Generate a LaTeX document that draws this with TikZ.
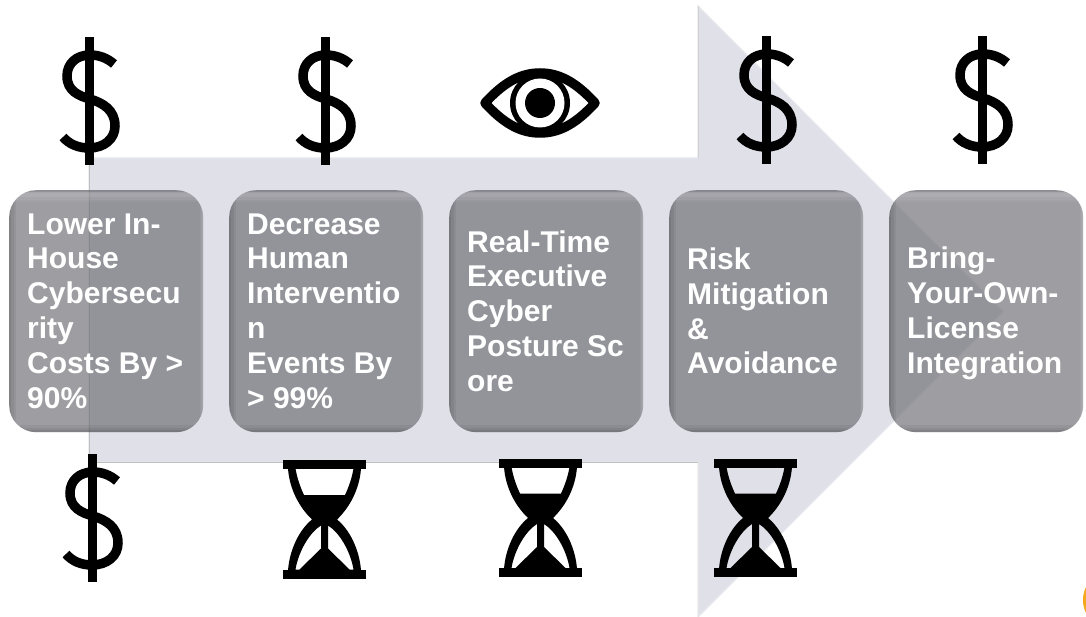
\documentclass[tikz,border=0pt]{standalone}
\usepackage{fontspec}
\setmainfont{Liberation Sans}
\tikzset{
  x=1pt,y=-1pt,
  arrowbody/.style={fill=arrowfill,draw=arrowedge,line width=1.2pt},
  stagebox/.style={rounded corners=27pt,minimum width=194pt,minimum height=242pt,inner sep=0pt,
    fill=boxfill,fill opacity=.66,text opacity=1,text=white,anchor=north west,
    path picture={
      \begin{scope}[fill opacity=1]
      \foreach \w/\o in {14/.05,9/.06,4/.08}{
        \draw[white,draw opacity=\o,line width=\w pt]
          ([xshift=\w*.25 pt]path picture bounding box.north east) -- ([xshift=\w*.25 pt]path picture bounding box.south east);
        \draw[black,draw opacity=\o,line width=\w pt]
          (path picture bounding box.north west) -- (path picture bounding box.south west);
        \draw[black,draw opacity=\o,line width=\w pt]
          (path picture bounding box.south west) -- (path picture bounding box.south east);
        \draw[white,draw opacity=\o,line width=\w pt]
          ([yshift=-5pt]path picture bounding box.north west) -- ([yshift=-5pt]path picture bounding box.north east);
      }
      \draw[black,draw opacity=.12,line width=3pt]
          (path picture bounding box.north west) -- (path picture bounding box.north east);
      \end{scope}
    }},
  stagetext/.style={text=white,font=\fontsize{30}{34.8}\selectfont\bfseries,anchor=west,align=left,inner sep=0pt},
  dollar/.pic={
    \fill[black] (-4.5,-64) rectangle (4.5,64);
    \draw[black,line width=9.5pt,line cap=butt]
      (25,-37) .. controls (18,-43) and (10,-46) .. (1,-46)
      .. controls (-13,-46) and (-22,-37) .. (-22,-25)
      .. controls (-22,-10) and (-10,-5) .. (1,-2)
      .. controls (14,2) and (26,9) .. (26,25)
      .. controls (26,38) and (15,47) .. (0,47)
      .. controls (-11,47) and (-20,43) .. (-26,36);
  },
  hourglass/.pic={
    \fill[black] (-41.5,-59.5) rectangle (41.5,-50.5);
    \fill[black] (-41.5,50) rectangle (41.5,59);
    \fill[black,even odd rule]
      (-36.5,-51) .. controls (-35,-30) and (-25,-12) .. (-12.5,0)
      .. controls (-25,10) and (-35,30) .. (-36.5,51) -- (36.5,51)
      .. controls (35,30) and (25,10) .. (12.5,0)
      .. controls (25,-12) and (35,-30) .. (36.5,-51) -- cycle
      (-29,-51) .. controls (-27.5,-42) and (-24.5,-33) .. (-20.5,-24.5) -- (20.5,-24.5)
      .. controls (24.5,-33) and (27.5,-42) .. (29,-51) -- cycle
      (-3.5,6) .. controls (-15,13) and (-26,32) .. (-29,50) -- (-25,50) -- (-3.5,29) -- cycle
      (3.5,6) .. controls (15,13) and (26,32) .. (29,50) -- (25,50) -- (3.5,29) -- cycle;
  },
  eyeicon/.pic={
    \draw[black,line width=9.5pt,line join=round]
      (-55,0) .. controls (-35,-22) and (-18,-30) .. (0,-30)
      .. controls (18,-30) and (35,-22) .. (55,0)
      .. controls (35,22) and (18,30) .. (0,30)
      .. controls (-18,30) and (-35,22) .. (-55,0) -- cycle;
    \fill[black] (0,0) circle[radius=30];
    \fill[white] (0,0) circle[radius=24.5];
    \fill[black] (0,0) circle[radius=15];
  }
}
\definecolor{arrowfill}{HTML}{DFE0E8}
\definecolor{arrowedge}{HTML}{E8E9EE}
\definecolor{boxfill}{HTML}{6C6C72}
\definecolor{cornerorange}{HTML}{F5A81C}
\begin{document}
\begin{tikzpicture}
\useasboundingbox (0,0) rectangle (1086,617);
\fill[white] (0,0) rectangle (1086,617);
\fill[cornerorange] (1113,600) circle[radius=30];
\path[arrowbody] (89,158) -- (698,158) -- (698,6) -- (1003,311.5) -- (698,617) -- (698,462) -- (89,462) -- cycle;
\draw[black!25,line width=1pt] (89,158) -- (89,462) -- (698,462);
\draw[black!10,line width=1pt] (698,462) -- (698,617);
\draw[black!18,line width=1pt] (698,158) -- (698,6);

\node[stagebox] (boxa) at (9,190) {};
\node[stagebox] (boxb) at (229,190) {};
\node[stagebox] (boxc) at (449,190) {};
\node[stagebox] (boxd) at (669,190) {};
\node[stagebox] (boxe) at (889,190) {};

\node[stagetext] (txta) at (27,311) {Lower In-\\House\\Cybersecu\\rity\\Costs By >\\90\%};
\node[stagetext] (txtb) at (247,311) {Decrease\\Human\\Interventio\\n\\Events By\\> 99\%};
\node[stagetext] (txtc) at (467,311) {Real-Time\\Executive\\Cyber\\Posture Sc\\ore};
\node[stagetext] (txtd) at (687,311) {Risk\\Mitigation\\\&\\Avoidance};
\node[stagetext] (txte) at (907,313.5) {Bring-\\Your-Own-\\License\\Integration};

\path (89,101) pic {dollar};
\path (325,101) pic {dollar};
\path (540,103) pic {eyeicon};
\path (766,100) pic {dollar};
\path (982,100) pic {dollar};
\path (92,518) pic {dollar};
\path (324.5,519.5) pic {hourglass};
\path (540.5,518) pic {hourglass};
\path (755.5,518) pic {hourglass};
\end{tikzpicture}
\end{document}
